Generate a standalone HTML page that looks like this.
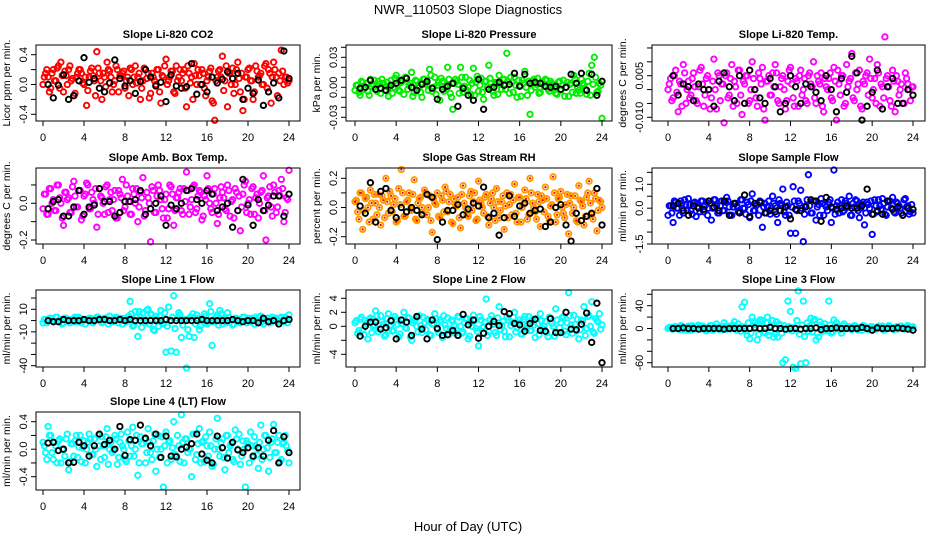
<!DOCTYPE html>
<html><head><meta charset="utf-8"><style>
html,body{margin:0;padding:0;background:#fff;}
svg{display:block;font-family:"Liberation Sans",Arial,sans-serif;}
</style></head><body>
<svg id="chart" width="936" height="540" viewBox="0 0 936 540">
<rect x="0" y="0" width="936" height="540" fill="#fff"/>
<text x="468" y="14" text-anchor="middle" font-size="13">NWR_110503  Slope Diagnostics</text>
<text x="468" y="531" text-anchor="middle" font-size="13">Hour of Day (UTC)</text>
</svg>
<script>
const hours = [0,0.25,0.5,0.75,1,1.25,1.5,1.75,2,2.25,2.5,2.75,3,3.25,3.5,3.75,4,4.25,4.5,4.75,5,5.25,5.5,5.75,6,6.25,6.5,6.75,7,7.25,7.5,7.75,8,8.25,8.5,8.75,9,9.25,9.5,9.75,10,10.25,10.5,10.75,11,11.25,11.5,11.75,12,12.25,12.5,12.75,13,13.25,13.5,13.75,14,14.25,14.5,14.75,15,15.25,15.5,15.75,16,16.25,16.5,16.75,17,17.25,17.5,17.75,18,18.25,18.5,18.75,19,19.25,19.5,19.75,20,20.25,20.5,20.75,21,21.25,21.5,21.75,22,22.25,22.5,22.75,23,23.25,23.5,23.75,24];
const hoursB = [0.125,0.375,0.625,0.875,1.125,1.375,1.625,1.875,2.125,2.375,2.625,2.875,3.125,3.375,3.625,3.875,4.125,4.375,4.625,4.875,5.125,5.375,5.625,5.875,6.125,6.375,6.625,6.875,7.125,7.375,7.625,7.875,8.125,8.375,8.625,8.875,9.125,9.375,9.625,9.875,10.125,10.375,10.625,10.875,11.125,11.375,11.625,11.875,12.125,12.375,12.625,12.875,13.125,13.375,13.625,13.875,14.125,14.375,14.625,14.875,15.125,15.375,15.625,15.875,16.125,16.375,16.625,16.875,17.125,17.375,17.625,17.875,18.125,18.375,18.625,18.875,19.125,19.375,19.625,19.875,20.125,20.375,20.625,20.875,21.125,21.375,21.625,21.875,22.125,22.375,22.625,22.875,23.125,23.375,23.625,23.875];
const blackHours = [0.5,1,1.5,2,2.5,3,3.5,4,4.5,5,5.5,6,6.5,7,7.5,8,8.5,9,9.5,10,10.5,11,11.5,12,12.5,13,13.5,14,14.5,15,15.5,16,16.5,17,17.5,18,18.5,19,19.5,20,20.5,21,21.5,22,22.5,23,23.5,24];
const xTicks = [0,4,8,12,16,20,24];
const titles = ["Slope Li-820 CO2","Slope Li-820 Pressure","Slope Li-820 Temp.","Slope Amb. Box Temp.","Slope Gas Stream RH","Slope Sample Flow","Slope Line 1 Flow","Slope Line 2 Flow","Slope Line 3 Flow","Slope Line 4 (LT) Flow"];
const yTitles = ["Licor ppm per min.","kPa per min.","degrees C per min.","degrees C per min.","percent per min.","ml/min per min.","ml/min per min.","ml/min per min.","ml/min per min.","ml/min per min."];
const colors = ["#ff0000","#00ee00","#ff00ff","#ff00ff","#ff9900","#0000ff","#00ffff","#00ffff","#00ffff","#00ffff"];
const yTicks = [[-0.4,-0.2,0,0.2,0.4],[-0.03,-0.02,-0.01,0,0.01,0.02,0.03,0.04],[-0.01,-0.005,0,0.005,0.01,0.015],[-0.2,-0.1,0,0.1],[-0.2,-0.1,0,0.1,0.2],[-1.5,-1,-0.5,0,0.5,1,1.5],[-40,-30,-20,-10,0,10,20],[-4,-2,0,2,4],[-60,-40,-20,0,20,40,60],[-0.4,-0.2,0,0.2,0.4]];
const yLabelVals = [[-0.4,0,0.4],[-0.03,0,0.03],[-0.01,0.005],[-0.2,0],[-0.2,0,0.2],[-1.5,0,1],[-40,-10,10],[-4,0,2,4],[-60,0,40],[-0.4,0,0.4]];
const yLabelText = [["-0.4","0.0","0.4"],["-0.03","0.00","0.03"],["-0.010","0.005"],["-0.2","0.0"],["-0.2","0.0","0.2"],["-1.5","0.0","1.0"],["-40","-10","10"],["-4","0","2","4"],["-60","0","40"],["-0.4","0.0","0.4"]];

const co2 = [0.00,0.15,0.10,-0.05,0.20,0.05,0.25,0.30,-0.10,0.12,0.20,0.05,-0.15,0.10,0.20,0.15,0.00,-0.28,0.10,0.22,0.05,0.44,0.15,-0.20,0.10,0.30,0.18,-0.10,0.05,0.20,0.12,0.15,-0.05,0.10,0.22,0.00,0.25,0.10,-0.20,0.05,0.20,0.15,-0.12,0.10,0.00,0.20,-0.25,0.10,0.34,0.05,0.18,-0.10,0.25,0.10,0.05,0.20,-0.30,0.15,0.10,0.28,0.00,0.12,0.20,-0.05,0.05,0.18,-0.22,-0.48,0.10,0.20,0.38,0.05,-0.30,0.15,0.22,0.00,0.30,-0.10,-0.35,0.10,0.20,0.05,-0.20,0.25,0.10,0.15,0.00,0.28,0.20,-0.25,0.30,0.10,0.15,0.46,0.00,0.10,0.05];
const co2B = [0.1,0.2,-0.1,0.15,0.05,0.22,-0.05,0.12,0.18,0.0,0.25,0.08,-0.12,0.15,0.2,0.02,0.1,-0.08,0.18,0.12,-0.15,0.22,0.05,0.15,-0.03,0.2,0.1,0.0,0.25,-0.1,0.12,0.18,0.05,-0.15,0.2,0.1,0.02,0.15,-0.05,0.22,0.08,-0.18,0.15,0.05,0.2,-0.1,0.12,0.25,0.0,0.1,0.18,-0.12,0.05,0.2,0.15,-0.05,0.25,0.02,-0.2,0.12,0.2,0.0,0.15,-0.15,0.1,0.22,-0.25,0.05,0.18,0.1,-0.08,0.25,0.15,0.0,-0.12,0.2,0.08,0.15,-0.2,0.1,0.22,0.05,-0.1,0.18,0.12,0.0,0.25,-0.05,0.15,0.1,0.2,-0.15,0.05,0.18,0.1,0.02];
const co2Black = [0.00,-0.18,-0.01,0.13,-0.2,-0.15,0.05,0.36,0.03,0.08,-0.05,-0.1,0.02,0.33,0.08,-0.02,0.05,-0.12,0.04,0.2,0.1,-0.02,0.03,-0.23,0.13,-0.02,-0.05,-0.03,0.28,-0.13,0.0,-0.1,0.1,0.02,0.07,0.17,0.08,0.15,-0.2,-0.05,-0.12,0.06,-0.28,-0.1,0.02,-0.18,0.45,0.08];
const pres = [-0.003,0.002,-0.008,0.005,0.0,-0.004,0.008,0.003,-0.002,0.006,-0.006,0.004,0.001,-0.009,0.007,0.0,0.012,-0.003,0.005,-0.007,0.009,0.002,0.015,-0.005,0.006,0.0,-0.01,0.008,0.004,0.018,-0.004,0.01,0.002,-0.013,0.006,0.0,0.02,-0.006,-0.022,0.008,0.003,0.02,-0.005,0.01,0.0,-0.007,0.019,0.005,-0.004,0.009,-0.012,0.006,0.022,0.0,-0.008,0.004,0.012,-0.002,0.008,0.034,-0.006,0.005,0.01,-0.01,0.002,0.007,0.016,-0.008,-0.027,0.006,0.0,0.009,-0.005,0.004,0.008,-0.002,0.006,0.003,-0.006,0.005,-0.003,0.007,0.0,-0.009,0.004,0.012,-0.006,-0.003,0.008,0.002,-0.007,0.014,0.022,0.03,-0.005,0.004,-0.031];
const presB = [0.002,-0.005,0.006,-0.002,0.004,-0.008,0.001,0.007,-0.004,0.003,0.008,-0.003,0.005,0.0,-0.006,0.009,0.002,-0.004,0.006,0.01,-0.002,0.004,-0.009,0.007,0.001,-0.005,0.008,0.003,-0.003,0.012,0.0,-0.007,0.005,0.009,-0.004,0.002,0.008,-0.01,0.004,0.006,-0.006,0.01,0.001,-0.003,0.007,0.004,-0.008,0.011,0.002,-0.005,0.006,0.0,0.009,-0.004,0.005,-0.007,0.003,0.008,-0.002,0.006,0.01,-0.005,0.002,0.007,-0.009,0.004,0.0,0.006,-0.003,0.008,0.003,-0.006,0.005,0.001,0.007,-0.004,0.004,0.0,-0.007,0.006,0.002,-0.009,0.005,0.003,-0.005,0.008,0.0,-0.006,0.004,-0.002,0.006,-0.008,0.003,0.01,-0.004,0.002];
const presBlack = [-0.001,0.0,0.007,-0.002,-0.001,-0.003,0.002,0.004,0.007,0.009,0.0,-0.003,0.003,0.006,-0.001,-0.012,-0.002,0.001,0.004,-0.019,-0.001,-0.008,-0.013,0.008,-0.022,-0.002,0.0,0.005,0.002,0.003,0.014,0.001,0.013,0.004,0.005,0.004,0.001,0.0,0.001,-0.002,0.0,0.013,0.004,0.014,-0.003,0.013,-0.008,0.006];
const temp = [0.0,0.004,-0.003,0.007,-0.008,0.002,0.009,-0.005,0.003,-0.002,0.006,-0.004,0.001,0.008,-0.006,0.004,0.0,-0.003,0.011,-0.007,0.005,0.002,-0.012,0.006,-0.002,0.009,0.003,-0.005,0.007,-0.009,0.002,0.005,-0.004,0.01,0.0,-0.006,0.004,0.008,-0.011,0.003,-0.002,0.006,0.009,-0.004,0.001,0.005,-0.007,0.003,0.008,-0.003,0.004,-0.006,0.007,0.0,-0.004,0.005,0.002,0.01,-0.005,0.003,0.006,-0.008,0.001,0.004,-0.003,0.008,-0.011,0.002,0.005,-0.006,0.009,0.003,0.013,-0.004,0.0,0.007,-0.007,0.002,0.006,0.011,-0.003,0.004,0.009,-0.006,0.001,0.019,0.005,-0.004,0.007,-0.008,0.003,0.0,-0.005,0.006,0.002,-0.004,0.001];
const tempB = [0.002,-0.004,0.005,-0.001,0.003,-0.006,0.006,0.0,-0.003,0.004,0.001,-0.005,0.007,0.002,-0.002,0.005,-0.007,0.003,0.0,0.006,-0.004,0.002,0.005,-0.003,0.004,-0.006,0.001,0.007,-0.002,0.003,0.005,-0.005,0.0,0.004,-0.003,0.006,0.002,-0.007,0.003,0.005,-0.002,0.001,0.006,-0.005,0.004,0.0,-0.004,0.007,0.002,-0.006,0.003,0.005,-0.002,0.004,-0.005,0.006,0.001,-0.003,0.005,0.002,-0.006,0.004,0.0,0.006,-0.004,0.003,0.007,-0.002,0.005,-0.005,0.001,0.004,-0.003,0.006,0.002,-0.006,0.003,0.005,-0.002,0.004,0.0,-0.005,0.006,0.002,-0.003,0.004,0.001,-0.006,0.003,0.005,-0.002,0.002,-0.005,0.004,0.0,0.001];
const tempBlack = [0.005,-0.002,0.002,0.001,-0.004,0.002,0.0,0.0,-0.006,0.003,0.006,0.001,-0.004,0.005,-0.005,0.007,0.0,-0.003,-0.005,0.004,0.001,-0.008,-0.005,0.005,0.001,-0.005,0.002,0.001,-0.001,-0.004,0.005,0.0,-0.008,0.004,-0.001,0.012,0.006,-0.011,-0.006,-0.001,0.007,-0.007,0.001,0.004,-0.005,-0.005,0.0,-0.002];
const amb = [-0.03,0.05,-0.06,0.08,0.02,-0.04,0.1,0.0,-0.12,0.06,0.03,-0.05,0.12,-0.02,0.07,-0.09,0.04,0.11,-0.03,0.06,0.0,-0.13,0.08,0.03,-0.06,0.1,0.02,-0.04,0.07,-0.08,0.05,0.13,-0.02,0.04,-0.06,0.08,0.0,-0.1,0.06,0.14,-0.04,0.03,-0.21,0.07,-0.05,0.1,0.02,-0.08,0.05,-0.03,0.09,-0.12,0.03,0.06,-0.04,0.08,0.17,-0.06,0.02,0.1,-0.03,0.07,-0.09,0.04,0.15,0.0,-0.05,0.08,-0.11,0.03,0.06,-0.03,0.1,-0.07,0.02,0.08,-0.04,-0.15,0.05,0.12,0.0,-0.06,0.09,0.03,-0.08,0.06,0.15,-0.2,0.04,-0.02,0.1,-0.05,0.07,0.13,-0.1,0.03,0.18];
const ambB = [0.05,-0.06,0.08,0.0,-0.04,0.1,0.03,-0.08,0.06,0.02,-0.05,0.09,0.04,-0.02,0.07,-0.07,0.05,0.1,-0.03,0.02,0.08,-0.06,0.04,0.0,0.09,-0.05,0.06,0.02,-0.08,0.07,0.03,-0.04,0.1,0.01,-0.06,0.05,0.08,-0.02,0.03,-0.07,0.06,0.0,0.09,-0.05,0.04,0.07,-0.03,0.02,-0.08,0.1,0.05,-0.04,0.03,0.08,-0.06,0.01,0.07,-0.02,0.09,-0.05,0.04,0.06,-0.07,0.02,0.08,-0.03,0.05,0.0,-0.06,0.09,0.03,-0.04,0.07,0.01,-0.08,0.06,0.04,-0.02,0.1,-0.05,0.02,0.08,-0.06,0.05,0.0,0.07,-0.04,0.03,0.09,-0.07,0.06,-0.02,0.04,0.08,-0.05,0.02];
const ambBlack = [-0.03,0.01,0.02,-0.07,-0.07,-0.02,0.07,-0.06,-0.02,-0.01,0.08,0.01,0.01,-0.07,-0.05,0.01,0.01,0.02,0.07,-0.06,-0.03,0.0,0.04,-0.12,-0.01,-0.03,0.0,0.07,0.08,0.02,0.0,0.07,0.05,-0.04,-0.02,0.0,-0.13,-0.04,0.13,-0.01,-0.12,0.02,-0.04,-0.01,0.04,0.04,-0.07,0.05];
const rh = [0.04,-0.03,0.1,-0.15,0.06,0.0,0.12,-0.08,0.03,0.09,-0.12,0.05,0.2,-0.04,0.08,0.02,-0.1,0.13,0.26,-0.06,0.04,0.1,-0.02,0.19,-0.09,0.06,0.0,0.12,-0.05,0.08,-0.17,0.03,0.1,-0.07,0.05,0.14,-0.03,0.09,-0.11,0.02,0.07,-0.14,0.15,0.0,-0.06,0.11,0.04,-0.09,0.18,0.03,-0.04,0.09,-0.12,0.06,0.0,0.13,-0.07,0.04,-0.15,0.1,0.02,-0.05,0.16,-0.1,0.07,0.0,0.12,-0.08,0.2,0.03,-0.03,0.09,-0.13,0.05,0.14,-0.06,0.01,0.21,-0.1,0.06,0.11,-0.04,0.02,-0.18,0.08,0.0,-0.09,0.15,0.04,-0.12,0.07,0.18,-0.05,0.1,-0.16,0.05,0.0];
const rhB = [0.05,-0.08,0.1,-0.02,0.07,-0.1,0.03,0.09,-0.05,0.0,0.08,-0.07,0.04,0.11,-0.03,0.06,-0.09,0.02,0.1,-0.06,0.05,-0.01,0.09,-0.08,0.03,0.07,-0.04,0.1,0.0,-0.09,0.06,0.02,-0.06,0.08,-0.03,0.11,0.04,-0.1,0.06,0.01,-0.07,0.09,0.03,-0.05,0.08,-0.02,0.1,-0.08,0.05,0.0,0.07,-0.06,0.03,0.1,-0.09,0.04,-0.02,0.08,0.01,-0.07,0.09,0.05,-0.04,0.07,-0.1,0.02,0.06,-0.05,0.1,0.0,-0.08,0.04,0.08,-0.03,0.06,-0.09,0.02,0.1,-0.05,0.07,0.0,-0.07,0.09,0.03,-0.04,0.08,-0.1,0.05,0.01,-0.06,0.1,0.03,-0.08,0.06,-0.02,0.04];
const rhBlack = [0.01,-0.04,0.17,-0.1,0.11,0.13,-0.02,-0.07,0.0,-0.03,0.0,-0.02,-0.05,0.09,0.07,-0.22,-0.1,-0.02,-0.02,0.02,-0.05,-0.01,0.03,0.01,0.14,-0.07,-0.04,-0.19,-0.07,0.08,-0.06,0.01,0.03,-0.04,-0.02,-0.01,-0.13,-0.1,0.0,0.02,-0.12,-0.23,-0.04,-0.09,-0.06,-0.04,0.13,-0.12];
const sample = [-0.3,0.1,-0.6,0.25,0.0,0.3,-0.2,0.15,0.4,-0.1,0.2,-0.35,0.05,0.3,-0.15,0.25,0.0,-0.5,0.35,0.1,-0.2,0.3,-0.1,0.45,0.05,-0.3,0.2,0.1,-0.15,0.35,0.0,0.25,-0.4,0.6,-0.1,0.15,0.3,-0.8,0.2,0.05,-0.25,0.5,0.1,-0.6,0.2,0.8,-0.3,0.1,-1.05,0.9,-1.05,0.3,0.75,-1.4,0.1,1.4,-0.2,0.3,-0.5,0.15,0.4,-0.3,0.05,0.25,-0.6,1.6,0.1,-0.2,0.35,-0.1,0.2,0.5,-0.3,0.05,0.3,-0.4,0.15,-0.7,0.25,0.0,-1.1,0.35,-0.15,0.1,0.4,-0.25,0.05,0.3,0.45,-0.2,0.2,0.0,-0.3,0.4,0.1,-0.15,-0.2];
const sampleB = [0.1,-0.2,0.3,0.0,-0.3,0.2,0.35,-0.1,0.15,-0.25,0.25,0.05,-0.15,0.3,0.1,-0.3,0.2,0.0,0.35,-0.2,0.1,-0.1,0.25,0.3,-0.3,0.05,0.2,-0.15,0.35,0.0,-0.25,0.15,0.3,-0.1,0.1,-0.3,0.25,0.05,-0.2,0.3,0.0,0.2,-0.25,0.35,0.1,-0.15,0.25,-0.3,0.05,0.3,-0.1,0.2,0.0,-0.25,0.35,0.1,-0.2,0.3,0.05,-0.3,0.2,0.15,-0.1,0.35,0.0,-0.25,0.25,0.1,-0.15,0.3,0.05,-0.3,0.2,0.35,-0.1,0.0,0.25,-0.2,0.15,0.3,-0.25,0.1,0.35,-0.05,0.2,-0.3,0.3,0.0,-0.15,0.25,0.1,-0.2,0.35,0.05,-0.25,0.15];
const sampleBlack = [0.1,0.2,-0.1,-0.3,0.1,0.0,-0.05,0.3,0.05,-0.1,0.3,-0.3,0.2,-0.2,0.55,-0.35,0.2,0.25,-0.2,-0.1,-0.15,-0.1,0.05,-0.45,-0.05,-0.1,0.05,0.35,0.3,-0.55,0.45,0.05,-0.05,0.0,0.1,0.0,0.0,0.1,0.8,-0.25,-0.1,-0.25,0.3,-0.05,0.05,-0.3,0.0,-0.05];
const line1 = [-2,1,0,2,-1,3,0,1,-2,2,0,1,-1,2,3,-2,0,1,2,-1,1,3,0,-2,2,1,4,-1,0,2,1,-3,2,0,17,-5,8,-14,3,7,-2,10,6,-8,4,-5,9,-3,-28,12,-27,22,-28,7,-15,0,-42,-14,3,-15,5,-8,2,6,-3,15,-22,1,5,9,-3,2,7,0,-4,2,1,-2,3,0,2,-1,1,3,0,4,-3,1,2,-1,1,2,0,3,-1,2,5];
const line1B = [1,-2,2,0,-1,3,1,-3,2,0,-2,1,3,-1,2,0,-3,1,2,-2,0,3,1,-1,2,-3,0,1,3,-2,2,0,-1,4,6,-4,3,8,-6,2,9,-3,5,-9,1,4,-2,7,-5,0,3,-7,2,5,-4,1,-8,3,6,-3,2,-5,0,4,-2,8,-1,3,-4,6,1,-2,3,0,-3,2,1,-1,3,-2,0,2,-3,1,3,-1,0,2,-2,3,1,-1,2,0,3,-2];
const line1Black = [0,-1,-1,1,0,0,0,1,0,0,1,1,0,0,1,0,1,0,0,0,0,0,0,1,0,0,0,0,0,0,1,0,0,0,0,0,1,0,-1,0,0,-2,2,-1,0,-3,0,1];
const line2 = [0.5,-1,1,-0.5,0.8,-1.8,1.2,0,2.2,-0.8,1.5,0.3,-1.2,1.8,0.2,-0.6,1,-1.5,0.4,2,-0.3,1.2,-2,0.8,0,1.5,-0.9,0.5,1,-1.2,0.3,1.8,-0.5,0.9,-1.6,0.2,1.2,-0.4,0.7,-1,1.4,0,-0.8,1.1,-1.8,0.5,1.6,-0.3,-2.8,0.9,0,3.9,-0.8,1.5,0.3,-1.3,2.8,0.1,-0.7,1.3,-1.5,0.6,2,-0.2,0.9,-1.1,1.4,0.3,-0.6,1,-1.6,0.4,1.8,-0.4,0.7,-1.5,1.2,0,2.5,-0.9,0.5,1.4,-1.2,4.8,0.2,1.6,-0.7,-1.8,0.9,2.8,-0.3,1.5,3.5,-1,0.8,1.8,0.2];
const line2B = [0.8,-0.6,1.3,-1.2,0.4,1.0,-0.9,0.2,1.5,-0.4,0.7,-1.4,1.1,0.0,-0.7,1.4,0.3,-1.1,0.9,-0.2,1.2,-1.5,0.5,1.0,-0.8,0.1,1.3,-0.5,0.8,-1.3,0.4,1.1,-0.9,0.6,1.5,-0.3,-1.2,0.9,0.2,-0.6,1.3,-1.0,0.5,1.1,-1.4,0.0,0.8,-0.7,1.4,-0.2,0.6,-1.3,1.0,0.3,-0.9,1.2,-0.5,0.7,-1.5,0.9,0.1,1.3,-0.8,0.5,-1.1,1.0,-0.3,1.4,-0.6,0.2,1.1,-1.2,0.8,0.0,-0.9,1.3,0.4,-1.4,0.9,-0.2,1.2,-0.7,0.5,1.5,-1.0,0.3,1.0,-0.5,0.7,-1.3,1.4,0.0,-0.8,1.1,0.6,-0.4];
const line2Black = [-1.4,0,0.6,0.6,-0.4,-0.2,0.8,-1.8,0.9,0.6,-1.3,1.4,-0.4,-1.8,0.9,-0.3,-1.3,-1.2,-0.6,-1.3,1.7,0.2,0.9,-1.7,-1,0,0.7,0.1,2.1,1.8,0.4,0.2,-0.7,0.4,1,-0.6,-0.7,1.1,-0.9,-0.9,2,-0.4,-0.5,0.3,1.9,-2.3,3.3,-5.2];
const line3 = [0,2,-1,3,0,5,-2,1,4,-3,2,0,6,-1,3,-4,1,5,0,8,-2,3,10,-1,4,0,12,-3,2,38,46,-12,-18,20,10,-20,15,12,-8,20,-5,14,-10,-15,5,-60,-55,48,30,-68,-70,66,-62,48,-60,-5,18,14,-20,-15,6,2,-4,48,-8,15,10,-2,-8,8,0,3,-2,5,0,2,-3,4,1,0,3,-1,2,0,4,-2,1,3,0,2,-1,4,0,2,5,-1,3];
const line3B = [2,-1,3,0,-2,4,1,-3,2,5,-1,3,0,4,-2,1,5,-3,2,0,3,-2,4,1,-1,6,2,8,-5,3,-4,10,-8,12,6,-10,15,-6,10,-12,4,-15,12,8,-8,5,-2,3,-4,2,14,-10,6,-14,10,4,-6,16,-8,12,-5,8,-3,6,-6,2,4,-2,5,0,3,-1,2,4,-3,1,5,0,-2,3,2,-1,4,0,-3,2,5,1,-2,3,0,4,-1,2,3,1];
const line3Black = [0,0,1,0,0,-1,0,0,0,0,-1,0,0,0,0,0,1,0,0,2,0,0,-1,0,0,-1,0,0,1,-2,0,0,1,0,0,0,0,2,0,-3,1,0,0,0,1,0,-1,-3];
const line4 = [0.1,-0.05,0.33,0.2,-0.15,0.05,0.12,-0.2,0.0,0.15,-0.3,0.08,-0.1,0.2,0.03,-0.18,0.12,0.0,0.22,-0.08,0.15,-0.25,0.05,0.18,-0.12,0.3,0.0,-0.05,0.2,-0.22,0.1,0.05,-0.15,0.25,-0.1,0.32,0.0,-0.38,0.18,0.08,-0.2,0.3,-0.05,0.12,-0.32,0.2,0.0,-0.55,0.25,0.1,-0.15,0.4,-0.1,0.05,0.5,-0.2,0.15,0.0,-0.4,0.22,-0.08,0.3,0.1,-0.18,0.05,0.25,-0.25,0.0,0.45,-0.1,0.15,-0.3,0.2,0.05,-0.15,0.28,0.0,-0.22,0.12,-0.55,0.08,0.25,-0.12,0.05,-0.28,0.35,0.0,0.2,-0.32,0.1,0.36,-0.05,0.2,-0.15,0.1,0.05,-0.2];
const line4B = [0.05,-0.15,0.2,-0.05,0.1,-0.2,0.15,0.0,-0.1,0.22,-0.18,0.08,0.12,-0.12,0.2,0.02,-0.2,0.1,0.15,-0.08,0.0,0.2,-0.15,0.05,0.18,-0.22,0.1,-0.02,0.15,-0.12,0.22,0.0,-0.18,0.12,0.05,-0.1,0.2,-0.2,0.08,0.15,-0.05,0.1,-0.15,0.22,0.0,-0.12,0.18,0.05,-0.2,0.12,0.02,-0.08,0.2,-0.18,0.1,0.15,-0.05,0.0,0.22,-0.15,0.08,-0.2,0.12,0.18,-0.1,0.05,-0.22,0.15,0.0,0.1,-0.12,0.2,-0.05,0.08,-0.18,0.15,0.22,-0.1,0.0,0.12,-0.2,0.05,0.18,-0.08,0.1,-0.15,0.2,0.02,-0.12,0.15,-0.05,0.1,-0.18,0.08,0.2,-0.02];
const line4Black = [0.09,0.1,-0.02,0.0,-0.2,-0.19,0.1,0.05,-0.1,0.05,0.22,0.07,0.13,0.0,0.33,-0.09,0.14,0.13,0.35,0.16,0.05,0.22,-0.12,0.19,-0.1,-0.11,0.0,0.03,0.08,0.22,-0.07,-0.16,-0.2,0.19,0.02,-0.13,0.1,-0.01,-0.05,0.02,-0.1,0.02,-0.1,0.13,0.27,-0.2,0.18,-0.05];

const colorSeries = [co2,pres,temp,amb,rh,sample,line1,line2,line3,line4];
const colorSeriesB = [co2B,presB,tempB,ambB,rhB,sampleB,line1B,line2B,line3B,line4B];
const blackSeries = [co2Black,presBlack,tempBlack,ambBlack,rhBlack,sampleBlack,line1Black,line2Black,line3Black,line4Black];

const cols = [{l:36,r:300,xa:43,xb:289},{l:346,r:612,xa:355,xb:602},{l:652,r:925,xa:668,xb:913}];
const rows = [{t:45,b:121},{t:168,b:244},{t:290,b:367},{t:412,b:490}];
const yCal = [[0.4,54.7,-0.4,114.3],[0.03,57.3,-0.03,117.3],[0.005,75.7,-0.01,117.3],[0,203.3,-0.2,240],[0.2,178.3,-0.2,236.7],[1,184.3,-1.5,244],[10,309.3,-40,365.7],[4,298.3,-4,354.3],[40,305.7,-60,362.7],[0.4,421.7,-0.4,476.7]];

const NS = "http://www.w3.org/2000/svg";
const svg = document.getElementById('chart');
function mk(tag, attrs, parent){const e=document.createElementNS(NS,tag);for(const k in attrs)e.setAttribute(k,attrs[k]);(parent||svg).appendChild(e);return e;}

for (let p=0;p<10;p++){
  const c = cols[p%3], r = rows[Math.floor(p/3)];
  const cal = yCal[p];
  const ys = v => cal[1] + (v-cal[0])*(cal[3]-cal[1])/(cal[2]-cal[0]);
  const xs = h => c.xa + h*(c.xb-c.xa)/24;
  const g = mk('g',{});
  
  
  const title = mk('text',{x:(c.l+c.r)/2,y:r.t-7,'text-anchor':'middle','font-size':11,'font-weight':'bold'},g);
  title.textContent = titles[p];
  
  
  const pts = mk('g',{fill:'none'},g);
  
  
  const drawColor = (vals, hrs) => {
    for (let i=0;i<Math.min(vals.length,hrs.length);i++){
      const x = xs(hrs[i]).toFixed(1), y = ys(vals[i]).toFixed(1);
      const dot = mk('circle',{cx:x,cy:y,r:2.7,stroke:colors[p],'stroke-width':1.9},pts);
      
      
      if (p===4){ mk('circle',{cx:x,cy:y,r:1.1,fill:'#ff0000'},pts); }
    }
  };
  drawColor(colorSeriesB[p], hoursB);
  drawColor(colorSeries[p], hours);
  const bpts = mk('g',{fill:'none'},g);
  
  
  const bs = blackSeries[p];
  for (let i=0;i<Math.min(bs.length,blackHours.length);i++){
    const dot = mk('circle',{cx:xs(blackHours[i]).toFixed(1),cy:ys(bs[i]).toFixed(1),r:2.7,stroke:'#000','stroke-width':1.9},bpts);
    
    
  }
  const box = mk('rect',{x:c.l,y:r.t,width:c.r-c.l,height:r.b-r.t,fill:'none',stroke:'#000','stroke-width':1},g);
  
  
  const xa = mk('g',{},g);
  
  
  mk('line',{x1:xs(0),x2:xs(24),y1:r.b,y2:r.b,stroke:'#000'},xa);
  xTicks.forEach(t=>{
    mk('line',{x1:xs(t),x2:xs(t),y1:r.b,y2:r.b+5,stroke:'#000'},xa);
    const tl = mk('text',{x:xs(t),y:r.b+20,'text-anchor':'middle','font-size':11},xa);
    tl.textContent = t;
    
    
  });
  const ya = mk('g',{},g);
  
  
  const yt = yTicks[p];
  mk('line',{x1:c.l,x2:c.l,y1:ys(yt[0]),y2:ys(yt[yt.length-1]),stroke:'#000'},ya);
  yt.forEach(v=>{ mk('line',{x1:c.l-5,x2:c.l,y1:ys(v),y2:ys(v),stroke:'#000'},ya); });
  yLabelVals[p].forEach((v,k)=>{
    const y = ys(v), x = c.l-9;
    const tl = mk('text',{x:x,y:y,'text-anchor':'middle','font-size':11,transform:`rotate(-90 ${x} ${y})`},ya);
    tl.textContent = yLabelText[p][k];
    
    
  });
  const yx = c.l-26, yy = (r.t+r.b)/2;
  const ytl = mk('text',{x:yx,y:yy,'text-anchor':'middle','font-size':10.5,transform:`rotate(-90 ${yx} ${yy})`},g);
  ytl.textContent = yTitles[p];
  
  
}
</script>
</body></html>
